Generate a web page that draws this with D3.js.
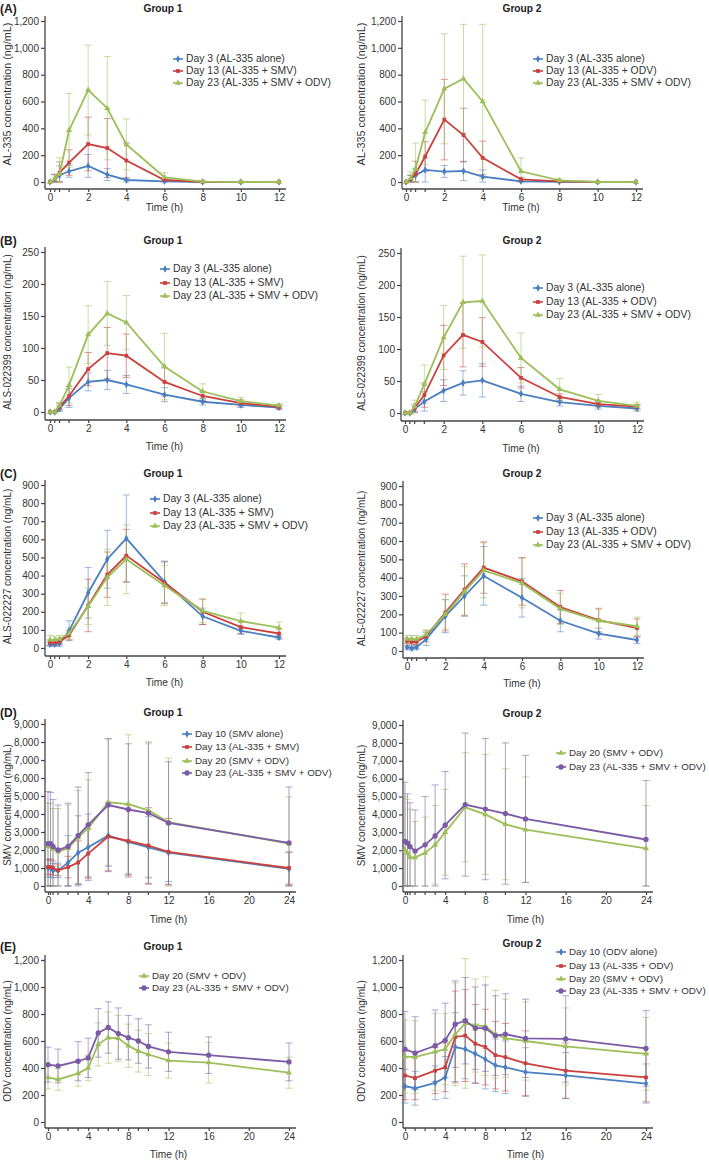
<!DOCTYPE html>
<html><head><meta charset="utf-8">
<script src="https://cdn.jsdelivr.net/npm/d3@7"></script>
<style>body{margin:0;background:#fff}</style>
</head><body>
<svg id="c" width="709" height="1161" xmlns="http://www.w3.org/2000/svg"></svg>
<script>
// ---------- time points ----------
const timesPK  = [0,0.25,0.5,1,2,3,4,6,8,10,12];
const timesSMV = [0,0.25,0.5,1,2,3,4,6,8,10,12,24];
const timesODV = [0,1,3,4,5,6,7,8,9,10,12,16,24];

// ---------- tick labels ----------
const xTicks12 = [0,2,4,6,8,10,12];
const xTicks24 = [0,4,8,12,16,20,24];
const xMinor12 = [0.25,0.5,1];
const xMinorSMV = [0.25,0.5,1,2,3,6,10];
const xMinorODV = [1,2,3,5,6,7,9,10];
const yTicksA = [0,200,400,600,800,1000,1200];
const yTicksB = [0,50,100,150,200,250];
const yTicksC = [0,100,200,300,400,500,600,700,800,900];
const yTicksD = [0,1000,2000,3000,4000,5000,6000,7000,8000,9000];
const yTicksE = [0,200,400,600,800,1000,1200];

// ---------- legend labels ----------
const legA1 = ["Day 3 (AL-335 alone)","Day 13 (AL-335 + SMV)","Day 23 (AL-335 + SMV + ODV)"];
const legA2 = ["Day 3 (AL-335 alone)","Day 13 (AL-335 + ODV)","Day 23 (AL-335 + SMV + ODV)"];
const legD1 = ["Day 10 (SMV alone)","Day 13 (AL-335 + SMV)","Day 20 (SMV + ODV)","Day 23 (AL-335 + SMV + ODV)"];
const legD2 = ["Day 20 (SMV + ODV)","Day 23 (AL-335 + SMV + ODV)"];
const legE1 = ["Day 20 (SMV + ODV)","Day 23 (AL-335 + SMV + ODV)"];
const legE2 = ["Day 10 (ODV alone)","Day 13 (AL-335 + ODV)","Day 20 (SMV + ODV)","Day 23 (AL-335 + SMV + ODV)"];

// ---------- (A) AL-335 ----------
const A1_blue = [0,20,50,80,120,55,15,5,0,0,0];
const A1_blue_sd = [0,35,70,45,85,45,15,3,0,0,0];
const A1_red = [0,20,70,145,283,253,160,15,2,0,0];
const A1_red_sd = [0,35,80,95,200,220,130,10,2,0,0];
const A1_green = [0,25,60,385,685,550,280,35,3,0,0];
const A1_green_sd = [0,35,120,275,335,385,190,35,5,0,0];
const A2_blue = [0,20,50,90,78,82,40,5,2,0,0];
const A2_blue_sd = [0,30,50,90,45,72,50,5,2,0,0];
const A2_red = [0,20,60,190,465,350,180,20,5,0,0];
const A2_red_sd = [0,30,95,110,300,200,125,15,5,0,0];
const A2_green = [0,30,100,370,695,770,600,80,12,0,0];
const A2_green_sd = [0,45,190,240,410,405,575,100,15,0,0];

// ---------- (B) ALS-022399 ----------
const B1_blue = [0,0,5,22,47,50,43,27,16,11,7];
const B1_blue_sd = [0,1,4,15,14,15,14,11,5,4,3];
const B1_red = [0,0,8,25,67,92,88,47,25,14,8];
const B1_red_sd = [0,1,5,15,26,40,34,22,7,5,3];
const B1_green = [0,0,10,42,121,154,140,71,32,17,10];
const B1_green_sd = [0,1,5,28,45,50,42,52,12,6,3];
const B2_blue = [0,0,6,18,35,47,51,30,17,11,7];
const B2_blue_sd = [0,2,5,15,17,19,26,12,6,5,4];
const B2_red = [0,0,8,28,90,122,111,55,25,14,10];
const B2_red_sd = [0,2,6,19,47,50,38,16,5,4,3];
const B2_green = [0,0,10,45,118,173,175,86,37,19,11];
const B2_green_sd = [0,2,10,30,50,72,72,39,17,10,6];

// ---------- (C) ALS-022227 ----------
const C1_blue = [20,20,25,95,305,490,605,365,175,95,58];
const C1_blue_sd = [10,10,15,55,140,160,240,115,45,20,10];
const C1_red = [30,30,35,70,235,405,510,360,200,115,80];
const C1_red_sd = [15,15,15,25,145,125,145,115,70,35,25];
const C1_green = [45,45,50,80,230,390,490,345,205,148,112];
const C1_green_sd = [25,20,20,30,100,155,190,110,65,45,32];
const C2_blue = [20,15,20,65,190,300,410,290,165,95,60];
const C2_blue_sd = [10,10,10,35,90,110,160,105,60,30,20];
const C2_red = [55,50,50,80,210,335,455,380,240,168,125];
const C2_red_sd = [15,15,15,30,100,140,140,130,90,65,50];
const C2_green = [65,65,65,90,200,325,440,370,230,165,135];
const C2_green_sd = [20,20,20,25,80,135,150,135,85,60,50];

// ---------- (D) SMV ----------
const D1_blue = [1000,1000,850,870,1300,1850,2150,2800,2450,2150,1850,950];
const D1_blue_sd = [500,500,400,400,1500,2050,1850,1700,1800,1700,1600,900];
const D1_red = [1050,1050,1000,870,1050,1300,1800,2750,2500,2250,1900,1000];
const D1_red_sd = [400,400,400,300,600,1200,1400,1900,2000,2100,1850,900];
const D1_green = [2200,2200,2050,1900,2100,2700,3200,4650,4550,4200,3550,2350];
const D1_green_sd = [2400,2400,2250,2400,2400,2600,2700,3500,3850,3700,3550,2600];
const D1_purple = [2350,2350,2200,2000,2200,2800,3400,4500,4250,4050,3500,2400];
const D1_purple_sd = [2900,2850,2600,2500,2400,2700,2900,3700,3650,3950,3400,3100];
const D2_green = [2000,1850,1600,1600,1850,2300,3000,4400,4000,3450,3150,2100];
const D2_green_sd = [3000,3000,2700,2000,2000,2200,2400,3050,3350,3100,2950,2400];
const D2_purple = [2500,2400,2200,1950,2300,2800,3400,4550,4300,4050,3750,2600];
const D2_purple_sd = [3300,2750,2450,2300,2700,2850,3000,4000,3950,3950,3550,3300];

// ---------- (E) ODV ----------
const E1_green = [330,315,360,400,575,625,620,565,525,500,455,440,365];
const E1_green_sd = [85,80,95,95,160,190,170,160,155,155,130,150,115];
const E1_purple = [425,415,450,475,660,700,655,625,600,560,520,495,445];
const E1_purple_sd = [130,125,145,145,180,190,190,165,165,160,145,135,140];
const E2_blue = [265,250,290,330,555,540,505,465,420,405,370,345,285];
const E2_blue_sd = [125,125,125,155,255,220,220,220,195,195,180,170,145];
const E2_red = [345,325,380,405,630,640,580,555,495,480,435,380,330];
const E2_red_sd = [180,160,170,180,340,340,290,280,250,250,240,205,180];
const E2_green = [485,480,520,540,650,730,715,710,650,620,600,560,505];
const E2_green_sd = [270,270,285,265,380,480,345,365,325,290,290,285,270];
const E2_purple = [540,510,565,605,725,750,695,695,640,650,620,615,545];
const E2_purple_sd = [280,270,265,275,320,320,305,320,295,300,290,320,280];

// ---------- styling ----------
const COLORS = {blue:"#4a7fc1", red:"#c9403d", green:"#9cbf5a", purple:"#7b5aa6"};
const SHAPES = {blue:d3.symbolDiamond, red:d3.symbolSquare, green:d3.symbolTriangle, purple:d3.symbolCircle};
const SIZES = {blue:16, red:14, green:16, purple:22};
const FONT = "'Liberation Sans', Arial, Helvetica, sans-serif";
const AXC = "#444";
const svg = d3.select("#c");

function ser(key, mean, sd, label){ return {key, mean, sd, label}; }

function panel(p){
  const g = svg.append("g");
  const x = d3.scaleLinear().domain([0,p.tmax]).range([p.x0,p.x1]);
  const y = d3.scaleLinear().domain([0,p.ymax]).range([p.y0,p.yTop]);

  // axis lines
  g.append("line").attr("x1",p.axisX).attr("x2",p.axisX).attr("y1",p.axisY).attr("y2",p.yTop-5)
    .attr("stroke",AXC).attr("stroke-width",1.3);
  g.append("line").attr("x1",p.axisX).attr("x2",p.x1+7).attr("y1",p.axisY).attr("y2",p.axisY)
    .attr("stroke",AXC).attr("stroke-width",1.3);

  const yA = d3.axisLeft(y).tickValues(p.yticks).tickSize(4).tickPadding(2).tickFormat(d3.format(","));
  const gy = g.append("g").attr("transform",`translate(${p.axisX},0)`).call(yA);
  gy.select(".domain").remove();
  const xA = d3.axisBottom(x).tickValues(p.xticks).tickSize(3).tickPadding(2).tickFormat(d3.format("d"));
  const gx = g.append("g").attr("transform",`translate(0,${p.axisY})`).call(xA);
  gx.select(".domain").remove();
  [gy,gx].forEach(a=>{
    a.selectAll("line").attr("stroke",AXC).attr("stroke-width",1.2);
    a.selectAll("text").attr("font-family",FONT).attr("font-size",10).attr("fill","#333");
  });
  g.append("g").selectAll("line").data(p.minor).join("line")
    .attr("x1",d=>x(d)).attr("x2",d=>x(d)).attr("y1",p.axisY).attr("y2",p.axisY+3)
    .attr("stroke",AXC).attr("stroke-width",1.2);

  // labels
  g.append("text").attr("x",(p.x0+p.x1)/2).attr("y",p.timeY).attr("text-anchor","middle")
    .attr("font-family",FONT).attr("font-size",10.2).attr("fill","#333").text("Time (h)");
  const yc = p.ylabY || (p.y0+p.yTop)/2;
  g.append("text").attr("transform",`translate(${p.ylabX},${yc}) rotate(-90)`).attr("text-anchor","middle")
    .attr("dominant-baseline","middle").attr("font-family",FONT).attr("font-size",p.ylabFs||10).attr("fill","#333").text(p.ylab);
  g.append("text").attr("x",p.titleX).attr("y",p.titleY+4).attr("text-anchor","middle")
    .attr("font-family",FONT).attr("font-size",10.2).attr("font-weight","bold").attr("fill","#222").text(p.title);
  if(p.tag){
    g.append("text").attr("x",0).attr("y",p.titleY+4.5).attr("font-family",FONT).attr("font-size",12)
      .attr("font-weight","bold").attr("fill","#222").text(p.tag);
  }

  const T = p.times;
  // error bars
  p.series.forEach(s=>{
    const eb = g.append("g").attr("stroke",COLORS[s.key]).attr("stroke-opacity",0.55).attr("stroke-width",1);
    T.forEach((t,i)=>{
      const sd = s.sd[i]; if(!sd) return;
      const lo = Math.max(0, s.mean[i]-sd), hi = s.mean[i]+sd;
      const cx = x(t);
      eb.append("line").attr("x1",cx).attr("x2",cx).attr("y1",y(lo)).attr("y2",y(hi));
      eb.append("line").attr("x1",cx-3.5).attr("x2",cx+3.5).attr("y1",y(hi)).attr("y2",y(hi));
      eb.append("line").attr("x1",cx-3.5).attr("x2",cx+3.5).attr("y1",y(lo)).attr("y2",y(lo));
    });
  });
  // lines + markers
  const line = d3.line().x(d=>x(d[0])).y(d=>y(d[1]));
  p.series.forEach(s=>{
    const pts = T.map((t,i)=>[t,s.mean[i]]);
    g.append("path").attr("d",line(pts)).attr("fill","none").attr("stroke",COLORS[s.key]).attr("stroke-width",1.8);
    g.append("g").selectAll("path").data(pts).join("path")
      .attr("transform",d=>`translate(${x(d[0])},${y(d[1])})`)
      .attr("d",d3.symbol(SHAPES[s.key],SIZES[s.key])).attr("fill",COLORS[s.key]);
  });

  // legend
  p.series.forEach((s,i)=>{
    const ly = p.legY[i];
    const lg = g.append("g");
    lg.append("line").attr("x1",p.legX-13).attr("x2",p.legX-3).attr("y1",ly).attr("y2",ly)
      .attr("stroke",COLORS[s.key]).attr("stroke-width",1.6);
    lg.append("path").attr("transform",`translate(${p.legX-8},${ly})`)
      .attr("d",d3.symbol(SHAPES[s.key],SIZES[s.key])).attr("fill",COLORS[s.key]);
    lg.append("text").attr("x",p.legX).attr("y",ly).attr("dominant-baseline","middle")
      .attr("font-family",FONT).attr("font-size",p.legFs).attr("fill","#333").text(s.label);
  });
}

const col1 = {axisX:45, ylabX:8, titleX:163};
const col2 = {axisX:402, ylabX:362, titleX:522};

// (A)
panel({...col1, tag:"(A)", title:"Group 1", titleY:8, times:timesPK, tmax:12, x0:50, x1:279,
  y0:182, yTop:21, axisY:189, timeY:211, ymax:1200, yticks:yTicksA, xticks:xTicks12, minor:xMinor12,
  ylab:"AL-335 concentration (ng/mL)", ylabY:94, ylabFs:10.8, legX:186, legY:[59,71,83], legFs:10.4,
  series:[ser("blue",A1_blue,A1_blue_sd,legA1[0]),ser("red",A1_red,A1_red_sd,legA1[1]),ser("green",A1_green,A1_green_sd,legA1[2])]});
panel({...col2, title:"Group 2", titleY:8, times:timesPK, tmax:12, x0:406, x1:636,
  y0:182, yTop:21, axisY:189, timeY:211, ymax:1200, yticks:yTicksA, xticks:xTicks12, minor:xMinor12,
  ylab:"AL-335 concentration (ng/mL)", ylabY:94, ylabFs:10.8, legX:546, legY:[59,71,83], legFs:10.4,
  series:[ser("blue",A2_blue,A2_blue_sd,legA2[0]),ser("red",A2_red,A2_red_sd,legA2[1]),ser("green",A2_green,A2_green_sd,legA2[2])]});
// (B)
panel({...col1, tag:"(B)", title:"Group 1", titleY:240, times:timesPK, tmax:12, x0:50, x1:279,
  y0:412, yTop:252, axisY:420, timeY:450, ymax:250, yticks:yTicksB, xticks:xTicks12, minor:xMinor12,
  ylab:"ALS-022399 concentration (ng/mL)", legX:173, legY:[269,283,296], legFs:10.4,
  series:[ser("blue",B1_blue,B1_blue_sd,legA1[0]),ser("red",B1_red,B1_red_sd,legA1[1]),ser("green",B1_green,B1_green_sd,legA1[2])]});
panel({...col2, axisX:401, title:"Group 2", titleY:240, times:timesPK, tmax:12, x0:405, x1:637,
  y0:413, yTop:253, axisY:421, timeY:452, ymax:250, yticks:yTicksB, xticks:xTicks12, minor:xMinor12,
  ylab:"ALS-022399 concentration (ng/mL)", legX:546, legY:[288,302,315], legFs:10.4,
  series:[ser("blue",B2_blue,B2_blue_sd,legA2[0]),ser("red",B2_red,B2_red_sd,legA2[1]),ser("green",B2_green,B2_green_sd,legA2[2])]});
// (C)
panel({...col1, tag:"(C)", title:"Group 1", titleY:473, times:timesPK, tmax:12, x0:50, x1:279,
  y0:648, yTop:485, axisY:656, timeY:686, ymax:900, yticks:yTicksC, xticks:xTicks12, minor:xMinor12,
  ylab:"ALS-022227 concentration (ng/mL)", legX:163, legY:[499,513,526], legFs:10.4,
  series:[ser("blue",C1_blue,C1_blue_sd,legA1[0]),ser("red",C1_red,C1_red_sd,legA1[1]),ser("green",C1_green,C1_green_sd,legA1[2])]});
panel({...col2, axisX:403, title:"Group 2", titleY:473, times:timesPK, tmax:12, x0:407, x1:637,
  y0:651, yTop:486, axisY:658, timeY:687, ymax:900, yticks:yTicksC, xticks:xTicks12, minor:xMinor12,
  ylab:"ALS-022227 concentration (ng/mL)", legX:546, legY:[518,532,545], legFs:10.4,
  series:[ser("blue",C2_blue,C2_blue_sd,legA2[0]),ser("red",C2_red,C2_red_sd,legA2[1]),ser("green",C2_green,C2_green_sd,legA2[2])]});
// (D)
panel({...col1, tag:"(D)", title:"Group 1", titleY:712, times:timesSMV, tmax:24, x0:48, x1:289,
  y0:886, yTop:724, axisY:892, timeY:923, ymax:9000, yticks:yTicksD, xticks:xTicks24, minor:xMinorSMV,
  ylab:"SMV concentration (ng/mL)", legX:195, legY:[734,747,761,773], legFs:9.8,
  series:[ser("blue",D1_blue,D1_blue_sd,legD1[0]),ser("red",D1_red,D1_red_sd,legD1[1]),ser("green",D1_green,D1_green_sd,legD1[2]),ser("purple",D1_purple,D1_purple_sd,legD1[3])]});
panel({...col2, axisX:403, title:"Group 2", titleY:713, times:timesSMV, tmax:24, x0:405, x1:646,
  y0:886, yTop:725, axisY:892, timeY:923, ymax:9000, yticks:yTicksD, xticks:xTicks24, minor:xMinorSMV,
  ylab:"SMV concentration (ng/mL)", legX:569, legY:[753,767], legFs:9.8,
  series:[ser("green",D2_green,D2_green_sd,legD2[0]),ser("purple",D2_purple,D2_purple_sd,legD2[1])]});
// (E)
panel({...col1, tag:"(E)", title:"Group 1", titleY:946, times:timesODV, tmax:24, x0:48, x1:289,
  y0:1122, yTop:960, axisY:1128, timeY:1158, ymax:1200, yticks:yTicksE, xticks:xTicks24, minor:xMinorODV,
  ylab:"ODV concentration (ng/mL)", legX:152, legY:[976,988], legFs:9.8,
  series:[ser("green",E1_green,E1_green_sd,legE1[0]),ser("purple",E1_purple,E1_purple_sd,legE1[1])]});
panel({...col2, axisX:403, title:"Group 2", titleY:943, times:timesODV, tmax:24, x0:405, x1:646,
  y0:1122, yTop:960, axisY:1128, timeY:1158, ymax:1200, yticks:yTicksE, xticks:xTicks24, minor:xMinorODV,
  ylab:"ODV concentration (ng/mL)", legX:569, legY:[952,966,979,991], legFs:9.8,
  series:[ser("blue",E2_blue,E2_blue_sd,legE2[0]),ser("red",E2_red,E2_red_sd,legE2[1]),ser("green",E2_green,E2_green_sd,legE2[2]),ser("purple",E2_purple,E2_purple_sd,legE2[3])]});
</script>
</body></html>
